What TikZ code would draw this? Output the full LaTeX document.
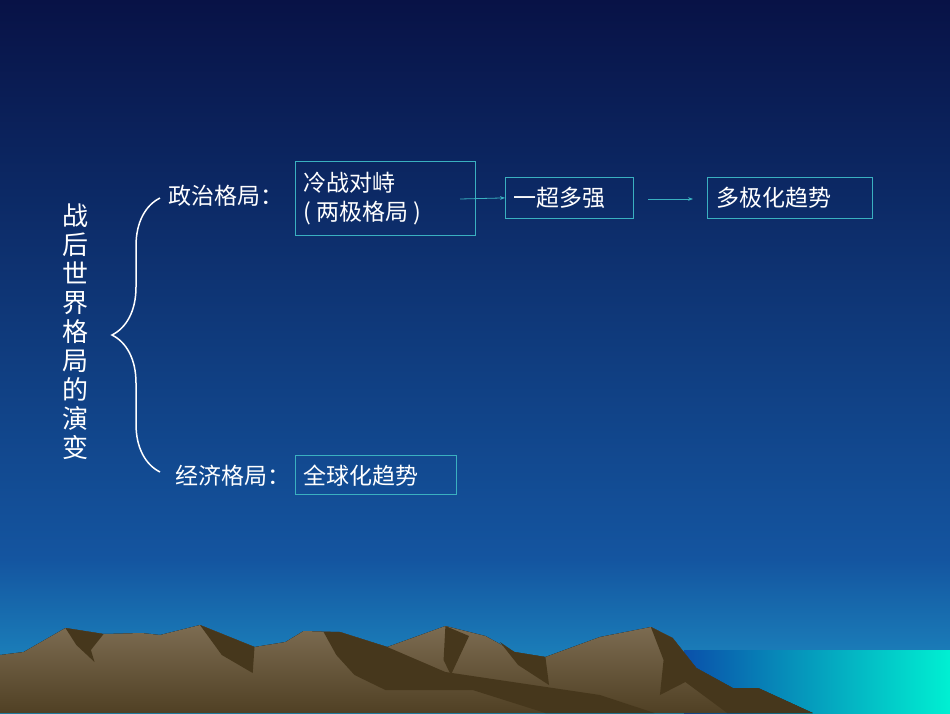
\documentclass[tikz,border=0pt]{standalone}
\usepackage{fontspec}
\newfontfamily\cjk{Noto Sans CJK SC}
\usetikzlibrary{decorations.pathreplacing,arrows.meta}
\definecolor{bx}{HTML}{3AB0C0}
\definecolor{sky1}{RGB}{8,18,70}
\definecolor{sky2}{RGB}{20,85,160}
\definecolor{sky3}{RGB}{30,150,200}
\definecolor{sea1}{RGB}{10,80,170}
\definecolor{sea2}{RGB}{0,240,210}
\definecolor{mt1}{RGB}{125,108,82}
\definecolor{mt2}{RGB}{80,64,36}
\definecolor{mtd}{RGB}{70,55,28}
\tikzset{box/.style={draw=bx,line width=0.8pt,inner sep=0pt,anchor=north west},
 lbl/.style={text=white,font=\cjk\fontsize{23}{27}\selectfont,anchor=west,inner sep=0pt},
 arr/.style={draw=bx,line width=0.8pt,-{Stealth[length=5pt]}},
 shd/.style={fill=mtd}}
\begin{document}
\begin{tikzpicture}[x=1pt,y=-1pt]
\useasboundingbox (0,0) rectangle (950,713);
\fill[top color=sky1,bottom color=sky2] (0,0) rectangle (950,560);
\fill[top color=sky2,bottom color=sky3] (0,559) rectangle (950,713);
\fill[left color=sea1,right color=sea2] (684,650) rectangle (950,713);
\begin{scope}[x=1.818pt]
\fill[top color=mt1,bottom color=mt2]
 (0,713) -- (0,655) -- (13,652) -- (36,628) -- (57,634) -- (78,633) -- (88,635) -- (110,625) -- (140,647) -- (157,642) -- (167,631) -- (187,632) -- (213,647) -- (245,626) -- (267,636) -- (283,652) -- (300,657) -- (330,637) -- (358,627) -- (370,638) -- (383,668) -- (403,688) -- (417,688) -- (447,713) -- cycle;
\fill[shd] (36,628) -- (57,634) -- (50,650) -- (52,662) -- (42,645) -- cycle;
\fill[shd] (110,625) -- (140,647) -- (139,673) -- (122,655) -- cycle;
\fill[shd] (178,632) -- (187,632) -- (213,647) -- (245,672) -- (330,695) -- (360,713) -- (300,713) -- (260,690) -- (212,690) -- (195,675) -- (185,655) -- cycle;
\fill[shd] (245,626) -- (258,636) -- (248,675) -- (244,660) -- cycle;
\fill[shd] (275,642) -- (283,652) -- (300,657) -- (302,685) -- (285,665) -- cycle;
\fill[shd] (358,627) -- (370,638) -- (383,668) -- (403,688) -- (417,688) -- (447,713) -- (400,713) -- (377,682) -- (363,695) -- (365,660) -- cycle;
\end{scope}
\node[text=white,font=\cjk\fontsize{26}{29}\selectfont,align=center,inner sep=0pt] (title) at (75,332) {战\\后\\世\\界\\格\\局\\的\\演\\变};
\draw[white,line width=1.5pt,decorate,decoration={brace,amplitude=48pt,aspect=0.5}] (160,472) -- (160,198);
\node[lbl] (pol) at (168,196) {政治格局：};
\node[lbl] (eco) at (175,476) {经济格局：};
\node[box,minimum width=180,minimum height=74] (b1) at (295,161) {};
\node[lbl,align=left] (t1) at (303,199) {冷战对峙\\[2pt]( 两极格局 )};
\node[box,minimum width=128,minimum height=41] (b2) at (505,177) {};
\node[lbl] (t2) at (513,198) {一超多强};
\node[box,minimum width=165,minimum height=41] (b3) at (707,177) {};
\node[lbl] (t3) at (716,198) {多极化趋势};
\node[box,minimum width=161,minimum height=39] (b4) at (295,455) {};
\node[lbl] (t4) at (303,476) {全球化趋势};
\coordinate (a1) at (460,199);
\coordinate (a2) at (648,199);
\coordinate (a3) at (693,199);
\draw[arr] (a1) -- (b2.west);
\draw[arr] (a2) -- (a3);
\end{tikzpicture}
\end{document}
